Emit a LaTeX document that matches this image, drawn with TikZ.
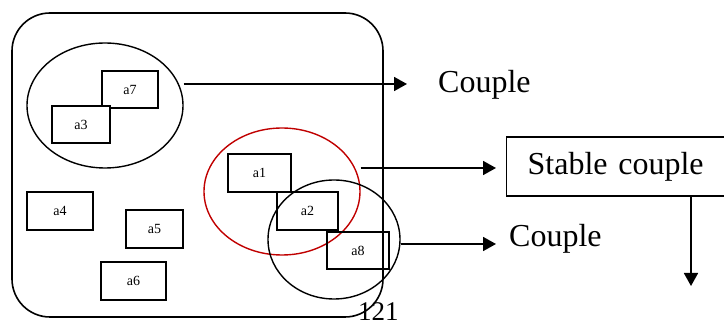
\documentclass[tikz,border=0pt]{standalone}
\usepackage{fontspec}
\setmainfont{Liberation Serif}
\usetikzlibrary{shapes.geometric,arrows.meta}
\definecolor{stablered}{RGB}{192,0,0}
\tikzset{
  agent/.style={draw, line width=1.6pt, inner sep=0pt, font=\fontsize{14}{16}\selectfont},
  group/.style={draw, ellipse, line width=1.4pt, inner sep=0pt},
  flow/.style={line width=1.8pt, -{Triangle[length=13pt,width=14pt]}},
  caption/.style={inner sep=0pt, font=\fontsize{32}{38}\selectfont},
}
\begin{document}
\begin{tikzpicture}[x=1pt, y=-1pt]
  \useasboundingbox (0,0) rectangle (724,320);

  % the whole population
  \node[draw, line width=1.6pt, rounded corners=38pt, minimum width=371pt, minimum height=304pt] (world) at (197.5,165) {};

  % first couple: a7 and a3
  \node[group, minimum width=156pt, minimum height=125pt] (g1) at (105,105.5) {};
  \node[agent, minimum width=56pt, minimum height=37pt] (a7) at (130,89.5) {a7};
  \node[agent, fill=white, minimum width=58pt, minimum height=37pt] (a3) at (81,124.5) {a3};

  % single agents
  \node[agent, minimum width=66pt, minimum height=38pt] (a4) at (60,211) {a4};
  \node[agent, minimum width=57pt, minimum height=38pt] (a5) at (154.5,229) {a5};
  \node[agent, minimum width=65pt, minimum height=38pt] (a6) at (133.5,281) {a6};

  % stable couple (red) and overlapping couple
  \node[group, draw=stablered, minimum width=156pt, minimum height=127pt] (g2) at (282,191.5) {};
  \node[group, minimum width=132pt, minimum height=119pt] (g3) at (334,239.5) {};
  \node[agent, minimum width=63pt, minimum height=38pt] (a1) at (259.5,173) {a1};
  \node[agent, minimum width=61pt, minimum height=38pt] (a2) at (307.5,211) {a2};
  \node[agent, minimum width=62pt, minimum height=37pt] (a8) at (358,250.5) {a8};

  % outcome labels
  \node[caption, anchor=base west] (c1) at (438,93) {Couple};
  \node[caption, draw, line width=1.4pt, anchor=west, minimum height=59pt,
        text width=198pt, inner xsep=21pt, align=left] (sc) at (506,166.5) {Stable couple};
  \node[caption, anchor=base west] (c2) at (509,247) {Couple};
  \node[inner sep=0pt, anchor=base west, font=\fontsize{27}{32}\selectfont] (page) at (358,320.5) {121};

  % arrow ends
  \coordinate (t1) at (407,84);
  \coordinate (t2) at (496,168);
  \coordinate (t3) at (496,244);
  \coordinate (t4) at (691,286);

  \draw[flow] (g1.east |- t1) -- (t1);
  \draw[flow] (g2.east |- t2) -- (t2);
  \draw[flow] (g3.east |- t3) -- (t3);
  \draw[flow] (sc.south -| t4) -- (t4);
\end{tikzpicture}
\end{document}
